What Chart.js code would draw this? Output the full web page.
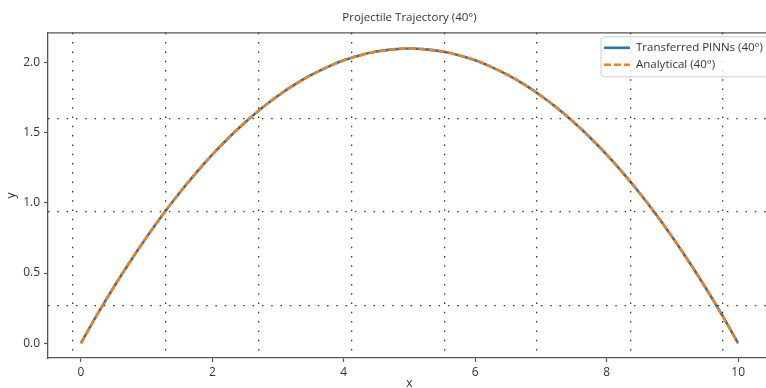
<!DOCTYPE html>
<html>
<head>
<meta charset="utf-8">
<script src="https://cdn.jsdelivr.net/npm/chart.js@4.4.1/dist/chart.umd.min.js"></script>
<style>
  html, body { margin: 0; padding: 0; overflow: hidden; background: #fff; }
  #wrap { width: 772px; height: 396px; }
</style>
</head>
<body>
<div id="wrap"><canvas id="chart1" width="772" height="396"></canvas></div>
<script>
// values
const xs = [0, 0.25, 0.5, 0.75, 1, 1.25, 1.5, 1.75, 2, 2.25, 2.5, 2.75, 3, 3.25, 3.5, 3.75, 4, 4.25, 4.5, 4.75,
            5, 5.25, 5.5, 5.75, 6, 6.25, 6.5, 6.75, 7, 7.25, 7.5, 7.75, 8, 8.25, 8.5, 8.75, 9, 9.25, 9.5, 9.75, 10];
const pinnY = [0, 0.205, 0.399, 0.582, 0.755, 0.918, 1.070, 1.211, 1.342, 1.463, 1.573, 1.673, 1.762, 1.841, 1.909, 1.966, 2.014, 2.051, 2.077, 2.092,
               2.098, 2.092, 2.077, 2.051, 2.014, 1.966, 1.909, 1.841, 1.762, 1.673, 1.573, 1.463, 1.342, 1.211, 1.070, 0.918, 0.755, 0.582, 0.399, 0.205, 0];
const analyticY = [0, 0.205, 0.399, 0.582, 0.755, 0.918, 1.070, 1.211, 1.342, 1.463, 1.573, 1.673, 1.762, 1.841, 1.909, 1.966, 2.014, 2.051, 2.077, 2.092,
                   2.098, 2.092, 2.077, 2.051, 2.014, 1.966, 1.909, 1.841, 1.762, 1.673, 1.573, 1.463, 1.342, 1.211, 1.070, 0.918, 0.755, 0.582, 0.399, 0.205, 0];

const xTicks = [0, 2, 4, 6, 8, 10];
const yTicks = [0, 0.5, 1.0, 1.5, 2.0];

// the dotted grid in the picture does not sit on the ticks
const gridX = [-0.12, 1.29, 2.71, 4.12, 5.53, 6.94, 8.36, 9.77];
const gridY = [0.27, 0.935, 1.6];

const labels = ['Transferred PINNs (40°)', 'Analytical (40°)'];

const family = '"Open Sans", "DejaVu Sans", sans-serif';
const font = { family: family, size: 12 };
const ink = '#333';
const spine = '#555';

const xMin = -0.5, xMax = 10.5, yMin = -0.105, yMax = 2.21;

// top spine
const topSpine = {
  id: 'topSpine',
  afterDatasetsDraw(chart) {
    const ctx = chart.ctx;
    const a = chart.chartArea;
    ctx.save();
    ctx.strokeStyle = spine;
    ctx.lineWidth = 1.3;
    ctx.beginPath();
    ctx.moveTo(a.left, a.top);
    ctx.lineTo(a.right, a.top);
    ctx.stroke();
    ctx.restore();
  }
};

// legend box inside the plot, top right
const boxLegend = {
  id: 'boxLegend',
  afterDraw(chart) {
    const ctx = chart.ctx;
    const a = chart.chartArea;
    const bx = a.right - 170, by = a.top + 4, bw = 175, bh = 40;
    ctx.save();
    ctx.fillStyle = 'rgba(255,255,255,0.8)';
    ctx.strokeStyle = '#d0d0d0';
    ctx.lineWidth = 1;
    ctx.beginPath();
    ctx.roundRect(bx, by, bw, bh, 3);
    ctx.fill();
    ctx.stroke();

    ctx.font = '11.5px ' + family;
    ctx.textBaseline = 'middle';
    chart.data.datasets.forEach((ds, i) => {
      const ry = by + 11 + i * 17;
      ctx.strokeStyle = ds.borderColor;
      ctx.lineWidth = 2.6;
      ctx.setLineDash(ds.borderDash || []);
      ctx.beginPath();
      ctx.moveTo(bx + 3, ry);
      ctx.lineTo(bx + 29, ry);
      ctx.stroke();
      ctx.setLineDash([]);
      ctx.fillStyle = ink;
      ctx.fillText(ds.label, bx + 35, ry);
    });
    ctx.restore();
  }
};

const ctx = document.getElementById('chart1');
new Chart(ctx, {
  type: 'line',
  data: {
    datasets: [{
      label: labels[0],
      data: xs.map((x, i) => ({ x: x, y: pinnY[i] })),
      borderColor: '#1f77b4',
      borderWidth: 2.6,
      pointRadius: 0,
      tension: 0.4,
      order: 2
    }, {
      label: labels[1],
      data: xs.map((x, i) => ({ x: x, y: analyticY[i] })),
      borderColor: '#ff7f0e',
      borderWidth: 2.6,
      borderDash: [7, 3],
      pointRadius: 0,
      tension: 0.4,
      order: 1
    }]
  },
  options: {
    responsive: false,
    animation: false,
    layout: { padding: { left: 0, right: 1, top: 0, bottom: 0 } },
    plugins: {
      legend: { display: false },
      tooltip: { enabled: false },
      title: {
        display: true,
        fullSize: false,
        text: 'Projectile Trajectory (40°)',
        color: ink,
        font: { family: family, size: 11.5, weight: 'normal' },
        padding: { top: 11, bottom: 8 }
      }
    },
    scales: {
      x: {
        type: 'linear',
        min: xMin,
        max: xMax,
        afterBuildTicks: s => { s.ticks = xTicks.map(v => ({ value: v })); },
        afterFit: s => { s.height = 38; },
        ticks: { color: ink, font: font, padding: 3, callback: v => String(v) },
        grid: { drawOnChartArea: false, tickLength: 4, tickColor: spine, tickWidth: 1.2 },
        border: { color: spine, width: 1.3 },
        title: { display: true, text: 'x', color: ink, font: font, padding: { top: 0, bottom: 5 } }
      },
      y: {
        type: 'linear',
        min: yMin,
        max: yMax,
        afterBuildTicks: s => { s.ticks = yTicks.map(v => ({ value: v })); },
        afterFit: s => { s.width = 48; },
        ticks: { color: ink, font: font, padding: 4, callback: v => v.toFixed(1) },
        grid: { drawOnChartArea: false, tickLength: 4, tickColor: spine, tickWidth: 1.2 },
        border: { color: spine, width: 1.3 },
        title: { display: true, text: 'y', color: ink, font: font, padding: { top: 4, bottom: 0 } }
      },
      xg: {
        type: 'linear',
        position: 'bottom',
        min: xMin,
        max: xMax,
        afterBuildTicks: s => { s.ticks = gridX.map(v => ({ value: v })); },
        afterFit: s => { s.height = 0; },
        ticks: { display: false },
        grid: { color: '#333', lineWidth: 1.3, drawTicks: false, z: 1 },
        border: { display: false, dash: [1.5, 7.8] }
      },
      yg: {
        type: 'linear',
        position: 'left',
        min: yMin,
        max: yMax,
        afterBuildTicks: s => { s.ticks = gridY.map(v => ({ value: v })); },
        afterFit: s => { s.width = 0; },
        ticks: { display: false },
        grid: { color: '#333', lineWidth: 1.3, drawTicks: false, z: 1 },
        border: { display: false, dash: [1.5, 7.8] }
      }
    }
  },
  plugins: [topSpine, boxLegend]
});
</script>
</body>
</html>
